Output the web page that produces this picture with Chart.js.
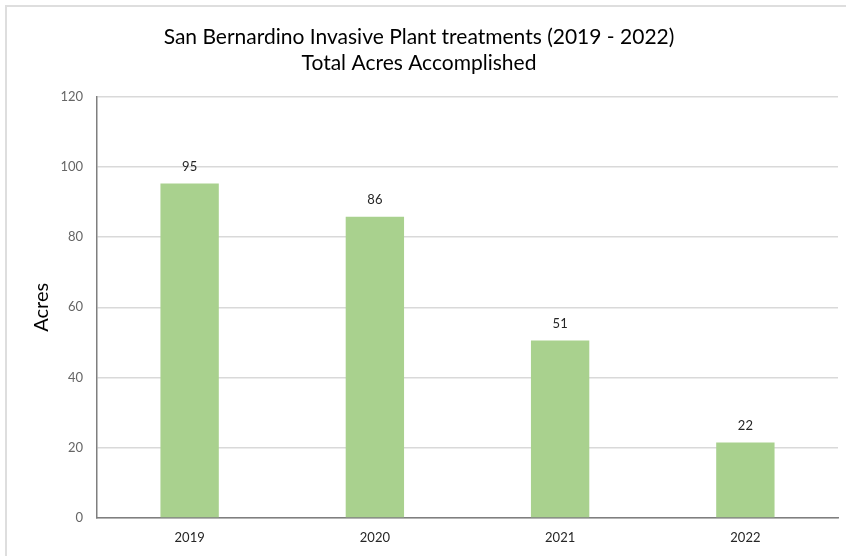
<!DOCTYPE html>
<html>
<head>
<meta charset="utf-8">
<script src="https://cdn.jsdelivr.net/npm/chart.js@4"></script>
<style>
  html, body { margin: 0; padding: 0; background: #ffffff; }
  #wrap { position: relative; width: 846px; height: 556px; }
  #frame { position: absolute; left: 5px; top: 5px; width: 900px; height: 900px;
           border-left: 2px solid #dedede; border-top: 2px solid #dedede; pointer-events: none; }
</style>
</head>
<body>
<div id="wrap">
  <canvas id="c" width="846" height="556"></canvas>
  <div id="frame"></div>
</div>
<script>
const titleLines = ['San Bernardino Invasive Plant treatments (2019 - 2022)', 'Total Acres Accomplished'];
const categories = ['2019', '2020', '2021', '2022'];
const acres = [95.2, 85.8, 50.5, 21.5];
const yTitle = 'Acres';
const yMin = 0, yMax = 120, yStep = 20;

const FONT = 'Lato, "Open Sans", sans-serif';

const labelPlugin = {
  id: 'barLabels',
  afterDatasetsDraw(chart) {
    const ctx = chart.ctx;
    const meta = chart.getDatasetMeta(0);
    ctx.save();
    ctx.font = '13px ' + FONT;
    ctx.fillStyle = '#262626';
    ctx.textAlign = 'center';
    ctx.textBaseline = 'middle';
    meta.data.forEach((el, i) => {
      ctx.fillText(String(Math.round(acres[i])), el.x, el.y - 17);
    });
    ctx.restore();
  }
};

new Chart(document.getElementById('c'), {
  type: 'bar',
  data: {
    labels: categories,
    datasets: [{
      data: acres,
      backgroundColor: '#A9D18E',
      borderWidth: 0,
      categoryPercentage: 1,
      barPercentage: 0.315
    }]
  },
  options: {
    responsive: false,
    animation: false,
    layout: { padding: { left: 0, right: 8, top: 0, bottom: 0 } },
    plugins: {
      legend: { display: false },
      tooltip: { enabled: false },
      title: {
        display: true,
        text: titleLines,
        color: '#000000',
        font: { family: FONT, size: 21, weight: 'normal', lineHeight: 1.25 },
        padding: { top: 24, bottom: 20 }
      }
    },
    scales: {
      x: {
        grid: { display: false, drawTicks: false },
        border: { display: true, color: '#7f7f7f', width: 1.5 },
        ticks: { color: '#262626', font: { family: FONT, size: 13 }, padding: 12 },
        afterFit(s) { s.height = 38; }
      },
      y: {
        min: yMin, max: yMax,
        ticks: { stepSize: yStep, color: '#666666', font: { family: FONT, size: 13 }, padding: 14 },
        grid: { color: '#d9d9d9', lineWidth: 1.5, drawTicks: false },
        border: { display: true, color: '#7f7f7f', width: 1.5 },
        title: { display: true, text: yTitle, color: '#000000',
                 font: { family: FONT, size: 20 }, padding: { top: 30, bottom: 0 } },
        afterFit(s) { s.width = 97; }
      }
    }
  },
  plugins: [labelPlugin]
});
</script>
</body>
</html>
